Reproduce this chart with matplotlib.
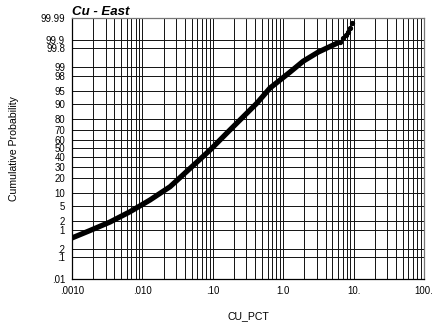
"""Probability plot: Cu - East, cumulative probability vs CU_PCT (log x)."""
from statistics import NormalDist
import numpy as np
import matplotlib
matplotlib.use("Agg")
import matplotlib.pyplot as plt
from matplotlib.ticker import LogLocator, NullFormatter

plt.rcParams['font.family'] = ['Liberation Sans', 'DejaVu Sans']

# values
cu_main = [0.001, 0.0018, 0.00347, 0.00667, 0.0128, 0.0247, 0.0449, 0.0912,
           0.175, 0.421, 0.649, 1.25, 1.93, 3.15, 5.75]
prob_main = [0.54, 0.97, 1.81, 3.58, 7.1, 13.8, 27.0, 48.2,
             70.1, 90.1, 95.75, 98.53, 99.36, 99.70, 99.863]
cu_tail = [6.4, 7.15, 7.8, 8.41, 8.9, 9.4]
prob_tail = [99.885, 99.915, 99.94, 99.956, 99.97, 99.982]

prob_ticks = [0.01, 0.1, 0.2, 1, 2, 5, 10, 20, 30, 40, 50, 60, 70, 80,
              90, 95, 98, 99, 99.8, 99.9, 99.99]
prob_labels = ['.01', '.1', '.2', '1', '2', '5', '10', '20', '30', '40', '50',
               '60', '70', '80', '90', '95', '98', '99', '99.8', '99.9', '99.99']
x_ticks = [0.001, 0.01, 0.1, 1, 10, 100]
x_labels = ['.0010', '.010', '.10', '1.0', '10.', '100.']

_nd = NormalDist()
_fwd = np.vectorize(lambda p: _nd.inv_cdf(min(max(p / 100.0, 1e-12), 1 - 1e-12)), otypes=[float])
_inv = np.vectorize(lambda z: _nd.cdf(z) * 100.0, otypes=[float])

fig = plt.figure(figsize=(4.35, 3.29), dpi=100)
ax = fig.add_axes([72 / 435, 50 / 329, 352 / 435, 261 / 329])
ax.set_xscale('log')
ax.set_yscale('function', functions=(_fwd, _inv))
ax.set_xlim(0.001, 100)
ax.set_ylim(0.01, 99.99)

ax.set_xticks(x_ticks, x_labels)
ax.xaxis.set_minor_locator(LogLocator(base=10, subs=range(2, 10)))
ax.xaxis.set_minor_formatter(NullFormatter())
ax.set_yticks(prob_ticks, prob_labels)
ax.yaxis.set_minor_locator(plt.NullLocator())
ax.tick_params(which='both', length=0, labelsize=6.9, pad=5)
ax.grid(which='both', color='#111111', lw=0.7)
ax.set_axisbelow(True)

for s in ['left', 'bottom']:
    ax.spines[s].set_linewidth(0.9)
for s in ['top', 'right']:
    ax.spines[s].set_color('#777777')
    ax.spines[s].set_linewidth(0.9)

ax.plot(cu_main, prob_main, color='black', lw=3.8, solid_capstyle='round')
ax.plot(cu_tail, prob_tail, 'o', color='black', ms=2.8)

ax.set_title('Cu - East', loc='left', fontsize=9.5, fontweight='bold',
             fontstyle='italic', pad=1.5)
ax.set_xlabel('CU_PCT', fontsize=7.6, labelpad=11)
ax.set_ylabel('Cumulative Probability', fontsize=7.6)
ax.yaxis.set_label_coords(-52.5 / 352, 0.5)

fig.savefig('out.png', dpi=100)
